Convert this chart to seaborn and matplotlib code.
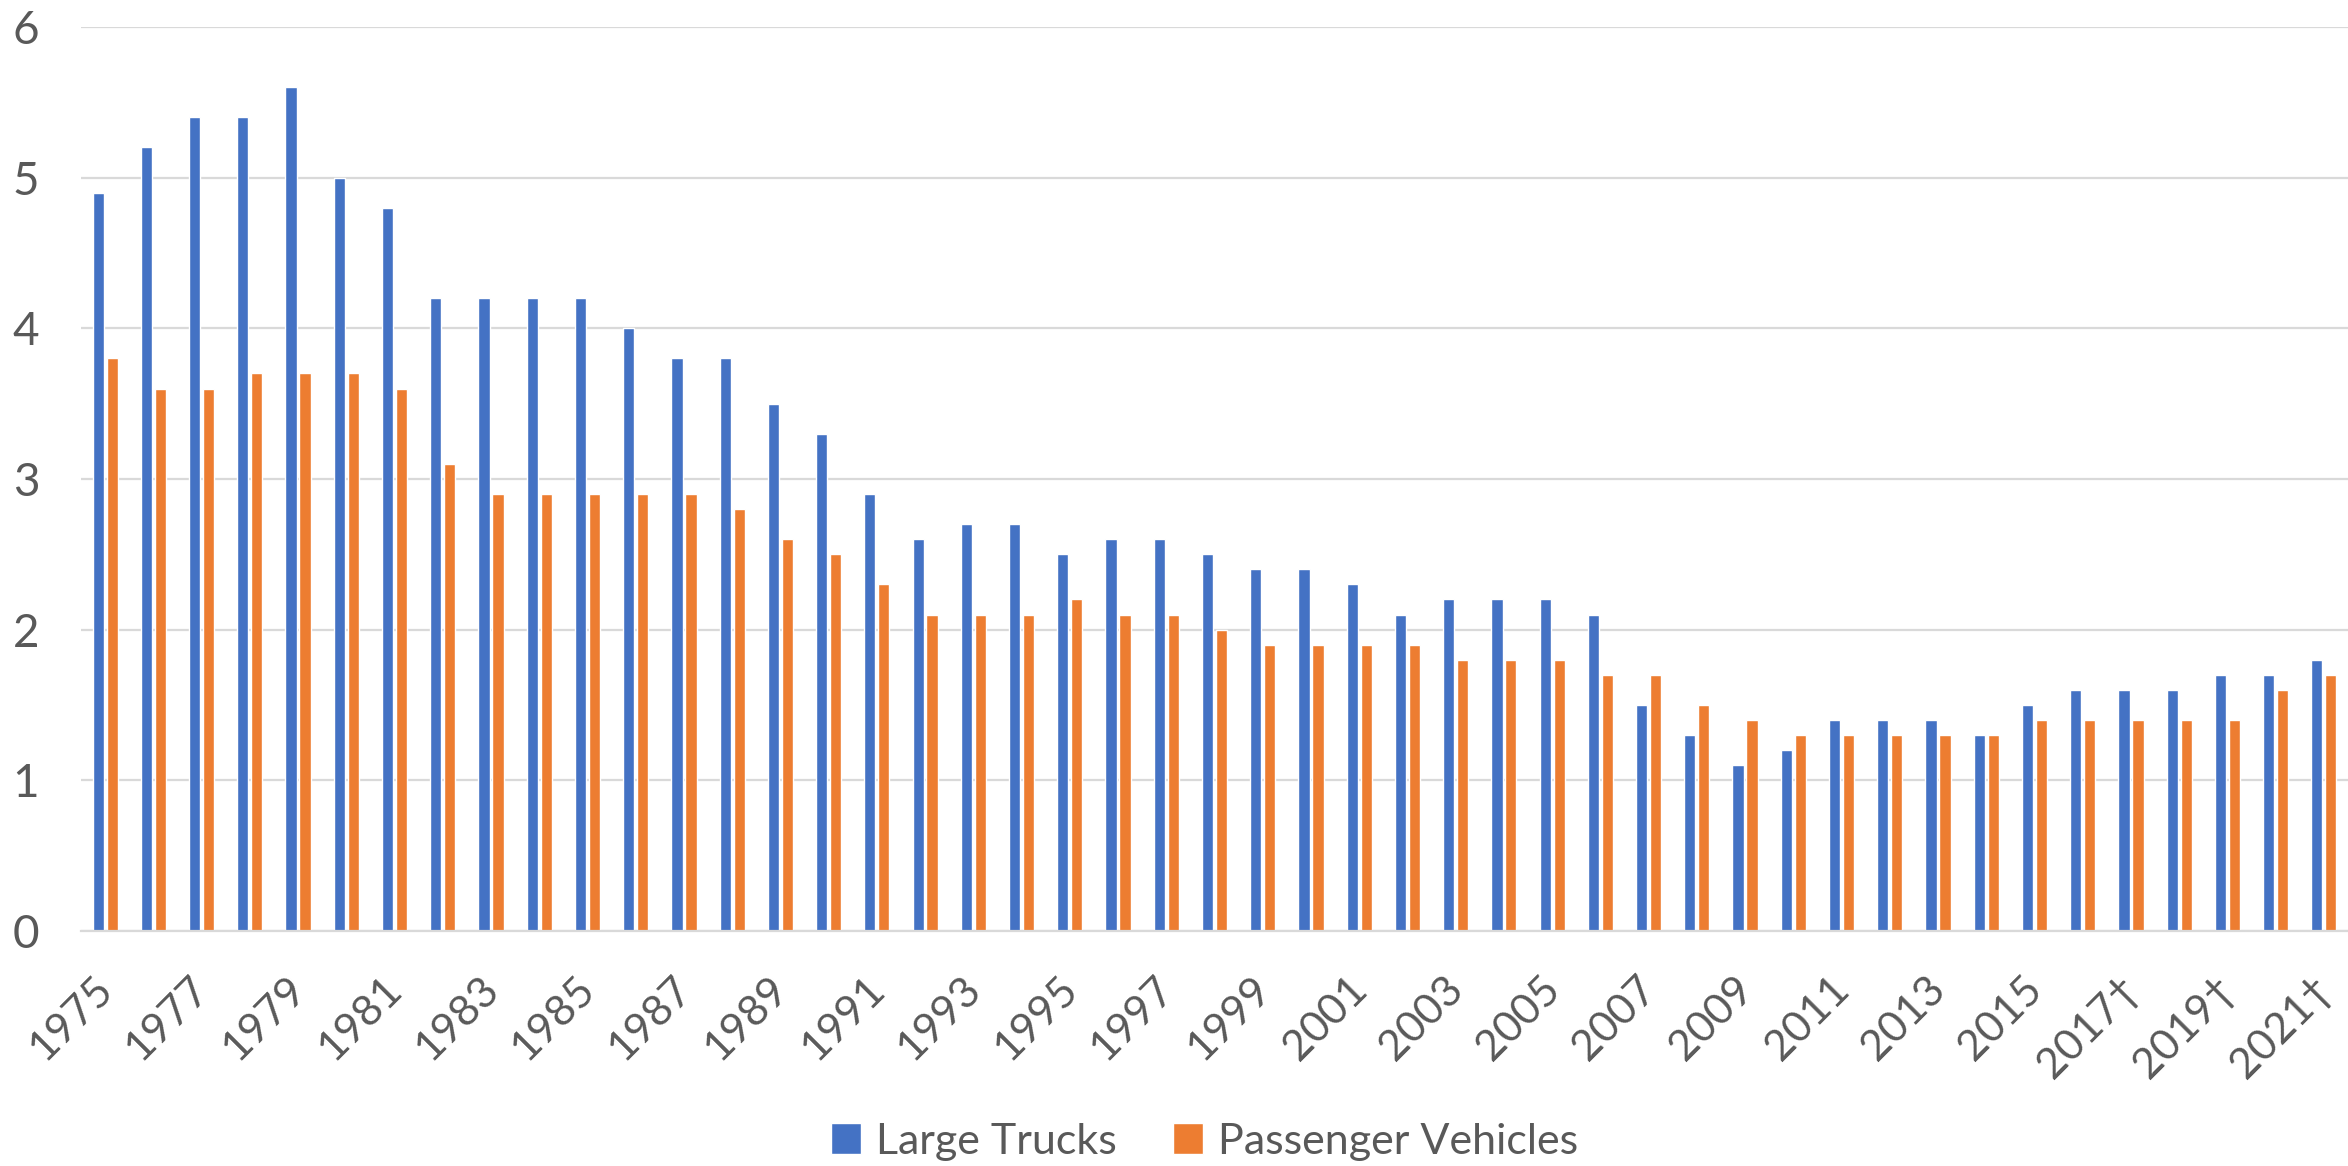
import pandas as pd
import matplotlib.pyplot as plt
import seaborn as sns
from matplotlib.patches import Patch
from matplotlib.transforms import ScaledTranslation

# ==========================================
# Data
# ==========================================

years = [
    "1975", "1976", "1977", "1978", "1979", "1980", "1981", "1982",
    "1983", "1984", "1985", "1986", "1987", "1988", "1989", "1990",
    "1991", "1992", "1993", "1994", "1995", "1996", "1997", "1998",
    "1999", "2000", "2001", "2002", "2003", "2004", "2005", "2006",
    "2007", "2008", "2009", "2010", "2011", "2012", "2013", "2014",
    "2015", "2016", "2017†", "2018†", "2019†", "2020†", "2021†",
]

large_trucks = [
    4.9, 5.2, 5.4, 5.4, 5.6, 5.0, 4.8, 4.2,
    4.2, 4.2, 4.2, 4.0, 3.8, 3.8, 3.5, 3.3,
    2.9, 2.6, 2.7, 2.7, 2.5, 2.6, 2.6, 2.5,
    2.4, 2.4, 2.3, 2.1, 2.2, 2.2, 2.2, 2.1,
    1.5, 1.3, 1.1, 1.2, 1.4, 1.4, 1.4, 1.3,
    1.5, 1.6, 1.6, 1.6, 1.7, 1.7, 1.8,
]

passenger_vehicles = [
    3.8, 3.6, 3.6, 3.7, 3.7, 3.7, 3.6, 3.1,
    2.9, 2.9, 2.9, 2.9, 2.9, 2.8, 2.6, 2.5,
    2.3, 2.1, 2.1, 2.1, 2.2, 2.1, 2.1, 2.0,
    1.9, 1.9, 1.9, 1.9, 1.8, 1.8, 1.8, 1.7,
    1.7, 1.5, 1.4, 1.3, 1.3, 1.3, 1.3, 1.3,
    1.4, 1.4, 1.4, 1.4, 1.4, 1.6, 1.7,
]

series_names = ["Large Trucks", "Passenger Vehicles"]
series_colors = ["#4472C4", "#ED7D31"]

df = pd.DataFrame({
    "year": years * 2,
    "rate": large_trucks + passenger_vehicles,
    "series": [series_names[0]] * len(years) + [series_names[1]] * len(years),
})

# ==========================================
# Plot
# ==========================================

sns.set_style("white")
plt.rcParams["font.family"] = ["Lato", "DejaVu Sans"]

text_color = "#595959"
grid_color = "#D9D9D9"

fig = plt.figure(figsize=(23.48, 11.66), dpi=100)
ax = fig.add_axes([0.0345, 0.2015, 0.9655, 0.7755])

sns.barplot(
    data=df,
    x="year",
    y="rate",
    hue="series",
    order=years,
    hue_order=series_names,
    palette=series_colors,
    width=0.58,
    gap=0.2,
    saturation=1,
    legend=False,
    ax=ax
)

ax.set_ylim(0, 6)
ax.set_xlim(-0.5, len(years) - 0.5)
ax.set_yticks(range(0, 7))
ax.yaxis.grid(True, color=grid_color, linewidth=1.6)
ax.set_axisbelow(True)

for side in ["top", "right", "left"]:
    ax.spines[side].set_visible(False)
ax.spines["bottom"].set_color(grid_color)
ax.spines["bottom"].set_linewidth(1.6)

ax.set_xticks(range(len(years)))
ax.set_xticklabels(
    [label if i % 2 == 0 else "" for i, label in enumerate(years)],
    rotation=45,
    ha="right",
    rotation_mode="anchor"
)

ax.tick_params(axis="x", length=0, pad=28, labelsize=31, labelcolor=text_color)
ax.tick_params(axis="y", length=0, pad=30, labelsize=33, labelcolor=text_color)

# nudge the rotated year labels a little to the left
shift = ScaledTranslation(-0.12, 0, fig.dpi_scale_trans)
for lab in ax.get_xticklabels():
    lab.set_transform(lab.get_transform() + shift)

ax.set_xlabel("")
ax.set_ylabel("")

handles = [Patch(facecolor=c, label=n) for c, n in zip(series_colors, series_names)]
fig.legend(
    handles=handles,
    loc="center",
    bbox_to_anchor=(0.513, 0.021),
    ncol=2,
    frameon=False,
    fontsize=31,
    labelcolor=text_color,
    handlelength=0.7,
    handleheight=0.7,
    handletextpad=0.35,
    columnspacing=1.3
)

fig.savefig("out.png", dpi=100)
